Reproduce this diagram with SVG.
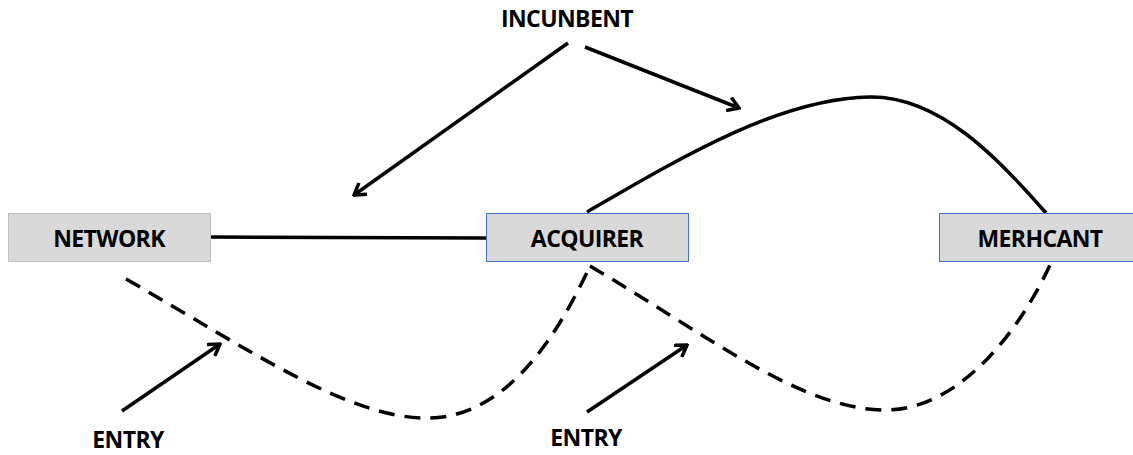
<svg xmlns="http://www.w3.org/2000/svg" width="1133" height="455" viewBox="0 0 1133 455">
  <style>
    .box { fill: #d9d9d9; stroke-width: 1; }
    .grey { stroke: #bfbfbf; }
    .blue { stroke: #4472c4; }
    .label { font-family: "Open Sans", "Liberation Sans", sans-serif; font-weight: bold; font-size: 23px; fill: #000; text-anchor: middle; letter-spacing: -0.6px; }
    .line { fill: none; stroke: #000; stroke-width: 3.5; }
    .dash { stroke-dasharray: 16 10; }
  </style>
  <defs>
    <marker id="open" viewBox="-12 -8 14 16" markerWidth="14" markerHeight="16" refX="0" refY="0" orient="auto" markerUnits="userSpaceOnUse">
      <polyline points="-11,-7 0,0 -11,7" fill="none" stroke="#000" stroke-width="3.5"/>
    </marker>
  </defs>

  <g id="connectors">
    <line class="line" x1="211" y1="237" x2="486" y2="238"/>
    <line class="line" x1="568" y1="43" x2="354" y2="195" marker-end="url(#open)"/>
    <line class="line" x1="585" y1="47" x2="739" y2="108" marker-end="url(#open)"/>
    <path class="line" d="M587,212 C680,158 780,98 870,97 C940,96 1000,160 1046,213"/>
    <path class="line dash" d="M126,279 C250,350 350,420 430,418 C510,416 560,330 590,266"/>
    <path class="line dash" d="M590,266 C700,330 800,410 885,410 C960,410 1020,330 1050,265"/>
    <line class="line" x1="122" y1="411" x2="220" y2="344" marker-end="url(#open)"/>
    <line class="line" x1="587" y1="412" x2="687" y2="345" marker-end="url(#open)"/>
  </g>

  <g id="network">
    <rect class="box grey" x="8.5" y="213.5" width="202" height="48"/>
    <text class="label" x="109" y="247">NETWORK</text>
  </g>
  <g id="acquirer">
    <rect class="box blue" x="486.5" y="213.5" width="202" height="48"/>
    <text class="label" x="587" y="247">ACQUIRER</text>
  </g>
  <g id="merchant">
    <rect class="box blue" x="939.5" y="213.5" width="202" height="48"/>
    <text class="label" x="1040" y="247">MERHCANT</text>
  </g>
  <g id="incumbent">
    <text class="label" x="567" y="27">INCUNBENT</text>
  </g>
  <g id="entry-left">
    <text class="label" x="128" y="448">ENTRY</text>
  </g>
  <g id="entry-right">
    <text class="label" x="586" y="446">ENTRY</text>
  </g>
</svg>
